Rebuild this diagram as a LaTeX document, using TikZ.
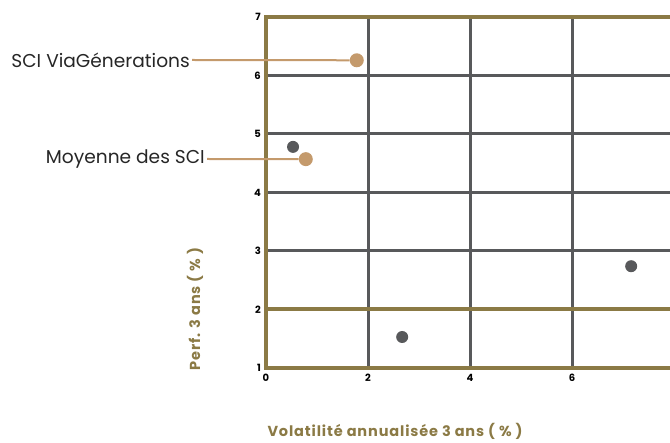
\documentclass[tikz,border=0pt]{standalone}
\usepackage{fontspec}
\setmainfont{Poppins}
\usetikzlibrary{positioning}
\definecolor{axisolive}{HTML}{8B7A45}
\definecolor{gridgray}{HTML}{58595B}
\definecolor{viatan}{HTML}{C49A6C}

\tikzset{
    gridline/.style={gridgray, line width=3pt},
    axisline/.style={axisolive, line width=4pt},
    dot/.style={circle, fill=gridgray, inner sep=0pt, minimum size=12pt},
    mark dot/.style={circle, fill=viatan, inner sep=0pt, minimum size=14pt},
    callout/.style={font=\fontsize{18.6}{22}\selectfont, text=black!85, inner sep=2pt},
    tick/.style={font=\bfseries\fontsize{10}{12}\selectfont, inner sep=1pt},
    axistitle/.style={font=\bfseries\fontsize{14.5}{16}\selectfont\addfontfeatures{LetterSpace=6}, text=axisolive, inner sep=0pt}
}

\begin{document}
\begin{tikzpicture}[x=1pt, y=1pt]
    \useasboundingbox (0,0) rectangle (670,-443);
    % chart area: data (0,1) at (266,-368), 51pt per unit in x, 58.5pt per unit in y
    \begin{scope}[shift={(266,-426.5)}, x=51pt, y=58.5pt]
        \foreach \gx in {2,4,6}
            \draw[gridline] (\gx,1) -- (\gx,7);
        \foreach \gy in {3,4,5,6}
            \draw[gridline] (0,\gy) -- (7.95,\gy);
        \foreach \gy in {1,2,7}
            \draw[axisline] (0,\gy) -- (7.95,\gy);
        \draw[axisline] (0,0.97) -- (0,7.03);

        \foreach \gy in {1,...,7}
            \node[tick, left=4pt] at (0,\gy) {\gy};
        \foreach \gx in {0,2,4,6}
            \node[tick, below=5pt] at (\gx,1) {\gx};

        % data points
        \node (p1) [dot] at (0.53,4.78) {};
        \node (p2) [dot] at (2.67,1.53) {};
        \node (p3) [dot] at (7.16,2.74) {};
        \node (pvia) [mark dot] at (1.78,6.26) {};
        \node (pmoy) [mark dot] at (0.78,4.57) {};
    \end{scope}

    \node (via) [callout, anchor=east] at (192,-60) {SCI ViaGénerations};
    \node (moy) [callout, anchor=east] at (207,-159) {Moyenne des SCI};
    \draw[viatan, line width=2pt] (via.east) -- (pvia);
    \draw[viatan, line width=2pt] (moy.east) -- (pmoy);

    \node (ytitle) [axistitle, rotate=90] at (195,-309) {Perf. 3 ans ( \% )};
    \node (xtitle) [axistitle, anchor=base] at (395,-436.5) {Volatilité annualisée 3 ans ( \% )};
\end{tikzpicture}
\end{document}
